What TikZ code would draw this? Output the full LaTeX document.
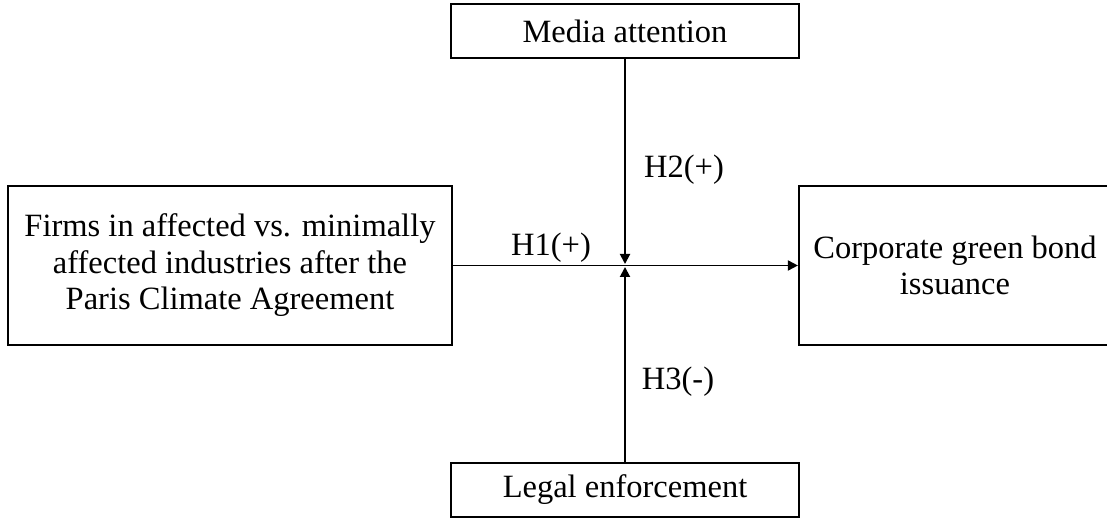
\documentclass[tikz,border=0pt]{standalone}
\usepackage{fontspec}
\setmainfont{Liberation Serif}
\usetikzlibrary{arrows.meta}
\begin{document}
\begin{tikzpicture}[x=1pt,y=1pt,>={Triangle[length=10pt,width=10pt]},line width=1.9pt]
  \tikzstyle{box}=[draw, line width=2.2pt, align=center, inner sep=0pt,
    font=\fontsize{32.5}{36.5}\selectfont]
  \tikzstyle{hyp}=[font=\fontsize{32.5}{36.5}\selectfont, inner sep=0pt]

  \useasboundingbox (0,0) rectangle (1107,519);
  \clip (0,0) rectangle (1107,519);

  \node[box, minimum width=444pt, minimum height=159pt] (cause) at (230,253.5)
    {Firms in affected vs. minimally\\affected industries after the\\Paris Climate Agreement};
  \node[box, minimum width=312pt, minimum height=159pt] (bond) at (955,253.5)
    {Corporate green bond\\issuance};
  \node[box, minimum width=348pt, minimum height=54pt] (media) at (625,488) {Media attention};
  \node[box, minimum width=348pt, minimum height=54pt] (legal) at (625,29) {Legal enforcement};
  \coordinate (mid) at (625,253.5);

  \draw[->] (cause.east) -- (bond.west);
  \draw[->] (media.south) -- ([yshift=1.5pt]mid);
  \draw[->] (legal.north) -- ([yshift=-1.5pt]mid);

  \node[hyp] (h1) at (551,271) {H1(+)};
  \node[hyp] (h2) at (684,349) {H2(+)};
  \node[hyp] (h3) at (678,137) {H3(-)};
\end{tikzpicture}
\end{document}
